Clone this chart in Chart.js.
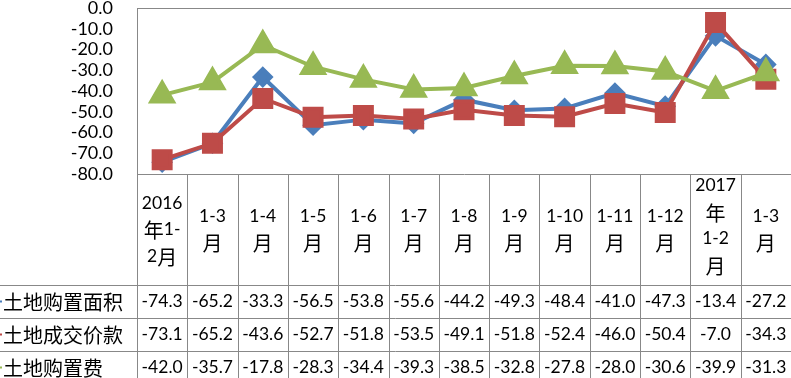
<!DOCTYPE html>
<html>
<head>
<meta charset="utf-8">
<script src="https://cdn.jsdelivr.net/npm/chart.js@4/dist/chart.umd.min.js"></script>
<style>
  html, body { margin: 0; padding: 0; background: #fff; }
  #wrap { width: 791px; height: 378px; position: relative; }
</style>
</head>
<body>
<div id="wrap"><canvas id="landChart"></canvas></div>
<script>
const categories = [
    ['2016', '年1-', '2月'], ['1-3', '月'], ['1-4', '月'], ['1-5', '月'], ['1-6', '月'],
    ['1-7', '月'], ['1-8', '月'], ['1-9', '月'], ['1-10', '月'], ['1-11', '月'],
    ['1-12', '月'], ['2017', '年', '1-2', '月'], ['1-3', '月']
];
const seriesNames = ['土地购置面积', '土地成交价款', '土地购置费'];
const areaValues  = [-74.3, -65.2, -33.3, -56.5, -53.8, -55.6, -44.2, -49.3, -48.4, -41.0, -47.3, -13.4, -27.2];
const priceValues = [-73.1, -65.2, -43.6, -52.7, -51.8, -53.5, -49.1, -51.8, -52.4, -46.0, -50.4, -7.0, -34.3];
const costValues  = [-42.0, -35.7, -17.8, -28.3, -34.4, -39.3, -38.5, -32.8, -27.8, -28.0, -30.6, -39.9, -31.3];
const yMin = -80, yMax = 0, yStep = 10;

const colors = ['#4a7ebb', '#be4b48', '#98b954'];
const GRID = '#888888';
const LATIN = '17.5px Lato';
const CJK = '20px "Noto Sans CJK SC"';

// draws text that mixes latin and CJK runs, centred (or left aligned) at x
function drawMixed(ctx, text, x, y, align) {
    const runs = [];
    for (const ch of text) {
        const cjk = /[\u3000-\u9fff]/.test(ch);
        const last = runs[runs.length - 1];
        if (last && last.cjk === cjk) last.t += ch;
        else runs.push({ t: ch, cjk });
    }
    let total = 0;
    runs.forEach(r => { ctx.font = r.cjk ? CJK : LATIN; r.w = ctx.measureText(r.t).width; total += r.w; });
    let cx = align === 'left' ? x : x - total / 2;
    ctx.textAlign = 'left';
    ctx.textBaseline = 'middle';
    runs.forEach(r => { ctx.font = r.cjk ? CJK : LATIN; ctx.fillText(r.t, cx, y + (r.cjk ? 1 : 0)); cx += r.w; });
}

const dataTable = {
    id: 'dataTable',
    afterDraw(chart) {
        const { ctx, chartArea: area, scales: { x } } = chart;
        const W = chart.width;
        const headTop = area.bottom, headBottom = 285, rowH = 33;
        const rowsTop = [285, 318, 351];
        const step = x.getPixelForValue(1) - x.getPixelForValue(0);
        ctx.save();
        ctx.strokeStyle = GRID;
        ctx.lineWidth = 1;
        ctx.beginPath();
        // plot frame top
        ctx.moveTo(area.left, area.top + 0.5); ctx.lineTo(area.right, area.top + 0.5);
        // column lines
        for (let i = 0; i <= categories.length; i++) {
            const px = Math.round(area.left + i * step) + 0.5;
            ctx.moveTo(px, headTop); ctx.lineTo(px, chart.height);
        }
        // row lines
        rowsTop.forEach(ry => { ctx.moveTo(0, ry + 0.5); ctx.lineTo(W, ry + 0.5); });
        ctx.stroke();

        ctx.fillStyle = '#000';
        // header
        categories.forEach((lines, i) => {
            const cx = x.getPixelForValue(i);
            const lh = 26.5;
            const mid = (headTop + headBottom) / 2 - (lines.length > 3 ? 4 : 0);
            lines.forEach((l, j) => drawMixed(ctx, l, cx, mid + (j - (lines.length - 1) / 2) * lh));
        });
        // rows
        const rows = [areaValues, priceValues, costValues];
        rows.forEach((vals, r) => {
            const cy = rowsTop[r] + rowH / 2;
            ctx.strokeStyle = colors[r];
            ctx.lineWidth = 2;
            ctx.beginPath(); ctx.moveTo(0, cy); ctx.lineTo(2, cy); ctx.stroke();
            ctx.fillStyle = '#000';
            drawMixed(ctx, seriesNames[r], 3, cy, 'left');
            vals.forEach((v, i) => drawMixed(ctx, v.toFixed(1), x.getPixelForValue(i), cy));
        });
        ctx.restore();
    }
};

new Chart(document.getElementById('landChart'), {
    type: 'line',
    data: {
        labels: categories,
        datasets: [
            { label: seriesNames[0], data: areaValues, borderColor: colors[0], backgroundColor: colors[0],
              borderWidth: 4, pointStyle: 'rectRot', pointRadius: 8, order: 2 },
            { label: seriesNames[1], data: priceValues, borderColor: colors[1], backgroundColor: colors[1],
              borderWidth: 4, pointStyle: 'rect', pointRadius: 12, order: 1 },
            { label: seriesNames[2], data: costValues, borderColor: colors[2], backgroundColor: colors[2],
              borderWidth: 4, pointStyle: 'triangle', pointRadius: 12.5, order: 0 }
        ]
    },
    options: {
        responsive: true,
        maintainAspectRatio: false,
        animation: false,
        devicePixelRatio: 1,
        layout: { autoPadding: false, padding: { top: 8, right: 0, left: 0, bottom: 0 } },
        plugins: { legend: { display: false }, tooltip: { enabled: false } },
        elements: { line: { tension: 0 }, point: { borderWidth: 1 } },
        scales: {
            x: {
                type: 'category',
                offset: true,
                grid: { display: false, drawTicks: false },
                ticks: { display: false },
                border: { display: true, color: GRID, width: 1 },
                afterFit(s) { s.height = 204; }
            },
            y: {
                min: yMin,
                max: yMax,
                grid: { display: false, drawTicks: false },
                border: { display: true, color: GRID, width: 1 },
                ticks: {
                    stepSize: yStep,
                    autoSkip: false,
                    padding: 24,
                    color: '#000',
                    font: { family: 'Lato', size: 18 },
                    callback: v => v.toFixed(1)
                },
                afterFit(s) { s.width = 137; s.paddingTop = 0; s.paddingBottom = 0; }
            }
        }
    },
    plugins: [dataTable]
});
</script>
</body>
</html>
